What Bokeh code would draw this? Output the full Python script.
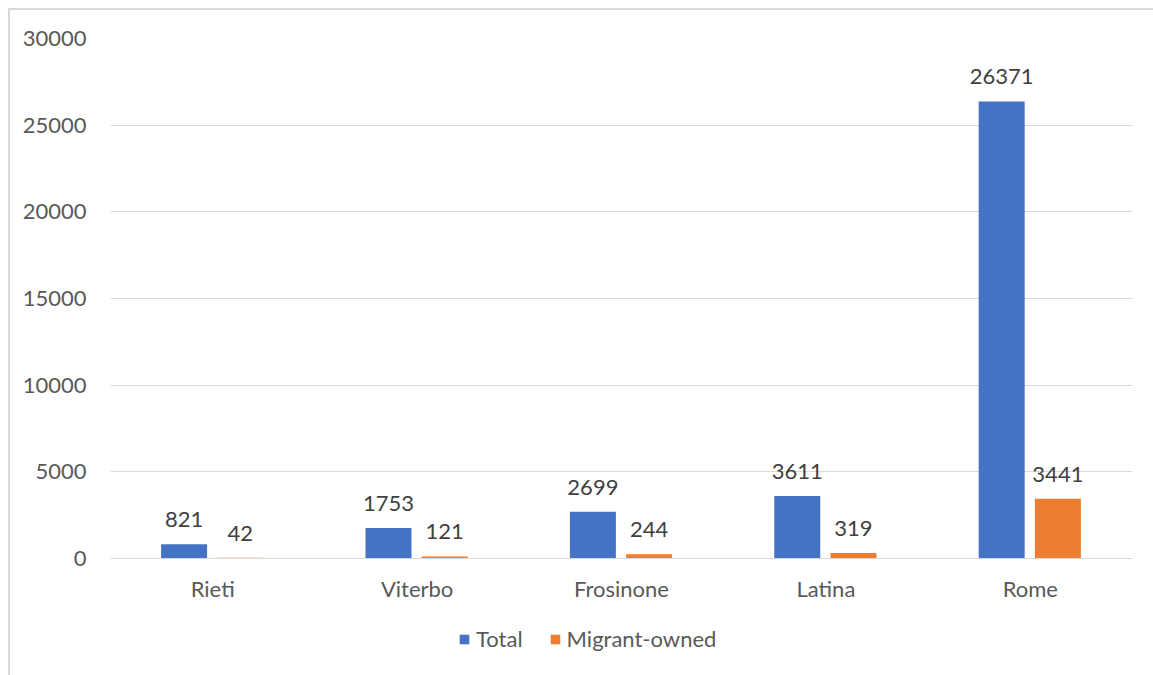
from bokeh.plotting import figure
from bokeh.models import ColumnDataSource, LabelSet, Legend, LegendItem
from bokeh.transform import dodge
from bokeh.core.properties import value
from bokeh.embed import file_html
from bokeh.resources import INLINE

categories = ["Rieti", "Viterbo", "Frosinone", "Latina", "Rome"]
total = [821, 1753, 2699, 3611, 26371]
migrant = [42, 121, 244, 319, 3441]
y_ticks = [0, 5000, 10000, 15000, 20000, 25000, 30000]

FONT = "Lato"
FS = "22px"
BLUE = "#4472C4"
ORANGE = "#ED7D31"
GRID = "#D9D9D9"

src = ColumnDataSource(dict(cat=categories, total=total, migrant=migrant,
                            tl=[str(v) for v in total], ml=[str(v) for v in migrant]))

# frame extends below zero so the x axis (fixed at 0) and the legend fit inside it
p = figure(x_range=categories, y_range=(-6750, 30000), width=1153, height=675,
           output_backend="svg", toolbar_location=None,
           min_border_left=110, min_border_right=21, min_border_top=38, min_border_bottom=0,
           styles={"background-color": "white",
                   "background-image": "linear-gradient(#D9D9D9, #D9D9D9), linear-gradient(#D9D9D9, #D9D9D9)",
                   "background-position": "8px 8px, 8px 8px",
                   "background-size": "3000px 2px, 2px 3000px",
                   "background-repeat": "no-repeat"})
p.outline_line_color = None
p.background_fill_color = None
p.border_fill_color = None

b1 = p.vbar(x=dodge("cat", -0.14, range=p.x_range), top="total", bottom=0, width=0.225,
            source=src, fill_color=BLUE, line_color=None)
b2 = p.vbar(x=dodge("cat", 0.135, range=p.x_range), top="migrant", bottom=0, width=0.225,
            source=src, fill_color=ORANGE, line_color=None)

for col, lab, off in (("total", "tl", -0.14), ("migrant", "ml", 0.135)):
    ls = LabelSet(x=dodge("cat", off, range=p.x_range), y=col, text=lab, source=src,
                  text_align="center", text_baseline="alphabetic", y_offset=17,
                  text_font=value(FONT), text_font_size=value(FS), text_color="#404040")
    p.add_layout(ls)

p.yaxis.ticker = y_ticks
p.yaxis.axis_line_color = None
p.yaxis.major_tick_line_color = None
p.yaxis.minor_tick_line_color = None
p.yaxis.major_label_standoff = 18
p.yaxis.major_label_text_font = FONT
p.yaxis.major_label_text_font_size = FS
p.yaxis.major_label_text_color = "#595959"

p.xaxis.fixed_location = 0
p.xaxis.axis_line_color = GRID
p.xaxis.axis_line_width = 1
p.xaxis.major_tick_line_color = None
p.xaxis.minor_tick_line_color = None
p.xaxis.major_label_standoff = 10
p.xaxis.major_label_text_font = FONT
p.xaxis.major_label_text_font_size = FS
p.xaxis.major_label_text_color = "#595959"

p.xgrid.grid_line_color = None
p.ygrid.grid_line_color = GRID
p.ygrid.grid_line_width = 1

legend = Legend(items=[LegendItem(label="Total", renderers=[b1]),
                       LegendItem(label="Migrant-owned", renderers=[b2])],
                orientation="horizontal", location=(348, 23),
                glyph_width=12, glyph_height=12, label_standoff=6, spacing=26,
                padding=0, margin=0, border_line_color=None, background_fill_alpha=0,
                label_text_font=FONT, label_text_font_size=FS, label_text_color="#595959",
                label_height=22)
p.add_layout(legend, "center")

open("out.html", "w").write(file_html(p, INLINE))
